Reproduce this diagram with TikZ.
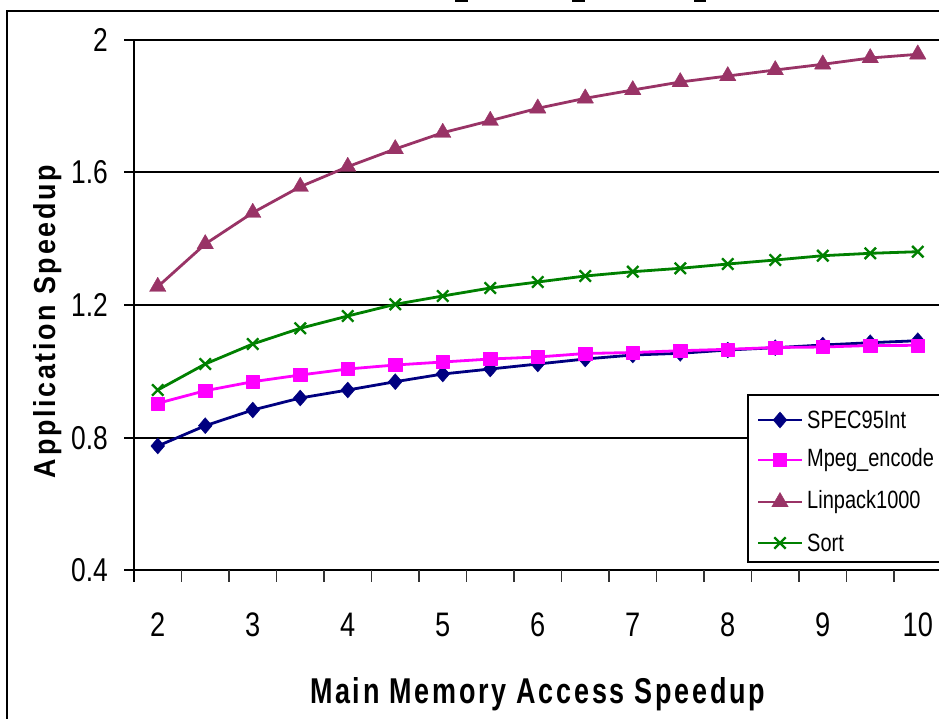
\documentclass[tikz,border=0pt]{standalone}
\usepackage{fontspec}
\setmainfont{Liberation Sans}
\newfontfamily\chartfont{Liberation Sans}[FakeStretch=0.8]
\newfontfamily\titlefont{Liberation Sans}[FakeStretch=0.8, LetterSpace=8]
\usetikzlibrary{plotmarks}

\definecolor{specnavy}{HTML}{000080}
\definecolor{mpegpink}{HTML}{FF00FF}
\definecolor{linplum}{HTML}{993366}
\definecolor{sortgreen}{HTML}{008000}

\tikzset{
  frameline/.style={black, line width=1.5pt},
  gridline/.style={black, line width=1.3pt},
  tickline/.style={black!80, line width=1.2pt},
  series/.style={line width=2.8pt, line join=round},
  legline/.style={line width=2.2pt},
  specmark/.style={mark=diamond*, mark size=8pt,
    mark options={solid, xscale=1.15, fill=specnavy, draw=specnavy, line width=0.4pt}},
  mpegmark/.style={mark=square*, mark size=6.6pt,
    mark options={solid, fill=mpegpink, draw=mpegpink, line width=0.4pt}},
  linmark/.style={mark=triangle*, mark size=9.5pt,
    mark options={solid, fill=linplum, draw=linplum, line width=0.4pt}},
  sortmark/.style={mark=x, mark size=8pt,
    mark options={solid, draw=sortgreen, line width=2.4pt}},
  ylab/.style={anchor=east, inner sep=0pt, font=\chartfont\fontsize{33}{33}\selectfont},
  xlab/.style={anchor=center, inner sep=0pt, font=\chartfont\fontsize{34}{34}\selectfont},
  legtext/.style={anchor=west, inner sep=0pt, font=\chartfont\fontsize{25}{25}\selectfont},
  axtitle/.style={inner sep=0pt, anchor=base},
}

\begin{document}
\begin{tikzpicture}[x=1pt, y=-1pt]
\useasboundingbox (0,0) rectangle (939,718);
\clip (0,0) rectangle (939,718);
\fill[white] (0,0) rectangle (939,718);

% fragments of the cut-off heading
\draw[black, line width=2pt] (455,1) -- (468,1);
\draw[black, line width=2pt] (572,1) -- (585,1);
\draw[black, line width=2pt] (694,1) -- (706,1);

% chart frame
\draw[frameline] (7,730) -- (7,11) -- (950,11);

% horizontal gridlines with their y ticks
\foreach \yy in {40,172,305,438}
  \draw[gridline] (124,\yy) -- (950,\yy);
% axes
\draw[gridline] (124,570) -- (950,570);
\draw[gridline] (134,40) -- (134,582);
% category ticks
\foreach \k in {1,...,16}
  \draw[tickline] ({134+47.5*\k},570) -- ({134+47.5*\k},582);

% y tick labels
\node[ylab] (y2)  at (108,40)  {2};
\node[ylab] (y16) at (108,172) {1.6};
\node[ylab] (y12) at (108,305) {1.2};
\node[ylab] (y08) at (108,438) {0.8};
\node[ylab] (y04) at (108,570) {0.4};

% x tick labels
\foreach \v [count=\i from 0] in {2,...,10}
  \node[xlab] (x\v) at ({157.75+95*\i},625) {\v};

% axis titles
\node[axtitle] (xtitle) at (537.5,703)
  {\resizebox{455pt}{26pt}{\titlefont\bfseries Main Memory Access Speedup}};
\node[axtitle, rotate=90] (ytitle) at (55,321.5)
  {\resizebox{313pt}{22pt}{\titlefont\bfseries Application Speedup}};

% data series
\draw[series, specnavy, specmark] plot coordinates {
  (157.75,446) (205.25,425.7) (252.75,410) (300.25,398) (347.75,390)
  (395.25,381.7) (442.75,374) (490.25,369) (537.75,364) (585.25,359)
  (632.75,355) (680.25,353.3) (727.75,350) (775.25,347.7) (822.75,345)
  (870.25,342.7) (917.75,340.7)};
\draw[series, mpegpink, mpegmark] plot coordinates {
  (157.75,403.3) (205.25,390.7) (252.75,381.7) (300.25,375) (347.75,369)
  (395.25,365) (442.75,362) (490.25,359) (537.75,357) (585.25,353.5)
  (632.75,352.5) (680.25,350.7) (727.75,349.3) (775.25,347.5) (822.75,347)
  (870.25,345.5) (917.75,345.3)};
\draw[series, linplum, linmark] plot coordinates {
  (157.75,286.7) (205.25,244) (252.75,212.7) (300.25,186.7) (347.75,166.7)
  (395.25,149) (442.75,132.7) (490.25,120.7) (537.75,108.3) (585.25,98.3)
  (632.75,90) (680.25,82) (727.75,76) (775.25,70) (822.75,64.3)
  (870.25,58) (917.75,54.3)};
\draw[series, sortgreen, sortmark] plot coordinates {
  (157.75,390) (205.25,364) (252.75,344) (300.25,328.3) (347.75,316)
  (395.25,304.3) (442.75,296) (490.25,288) (537.75,282) (585.25,276)
  (632.75,271.7) (680.25,268.3) (727.75,264) (775.25,260) (822.75,255.7)
  (870.25,253.3) (917.75,251.7)};

% legend
\draw[gridline, fill=white] (748,395) rectangle (960,562);
\draw[legline, specnavy] (758,420) -- (802,420);
\draw[specnavy, specmark, draw=none] plot coordinates {(780,420)};
\node[legtext] (lspec) at (807,420) {SPEC95Int};
\draw[legline, mpegpink] (758,460) -- (802,460);
\draw[mpegpink, mpegmark, draw=none] plot coordinates {(780,460)};
\node[legtext] (lmpeg) at (807,460) {Mpeg\_encode};
\draw[legline, linplum] (758,502) -- (802,502);
\draw[linplum, linmark, draw=none] plot coordinates {(780,502)};
\node[legtext] (llin) at (807,502) {Linpack1000};
\draw[legline, sortgreen] (758,543) -- (802,543);
\draw[sortgreen, sortmark, draw=none] plot coordinates {(780,543)};
\node[legtext] (lsort) at (807,543) {Sort};
\end{tikzpicture}
\end{document}
